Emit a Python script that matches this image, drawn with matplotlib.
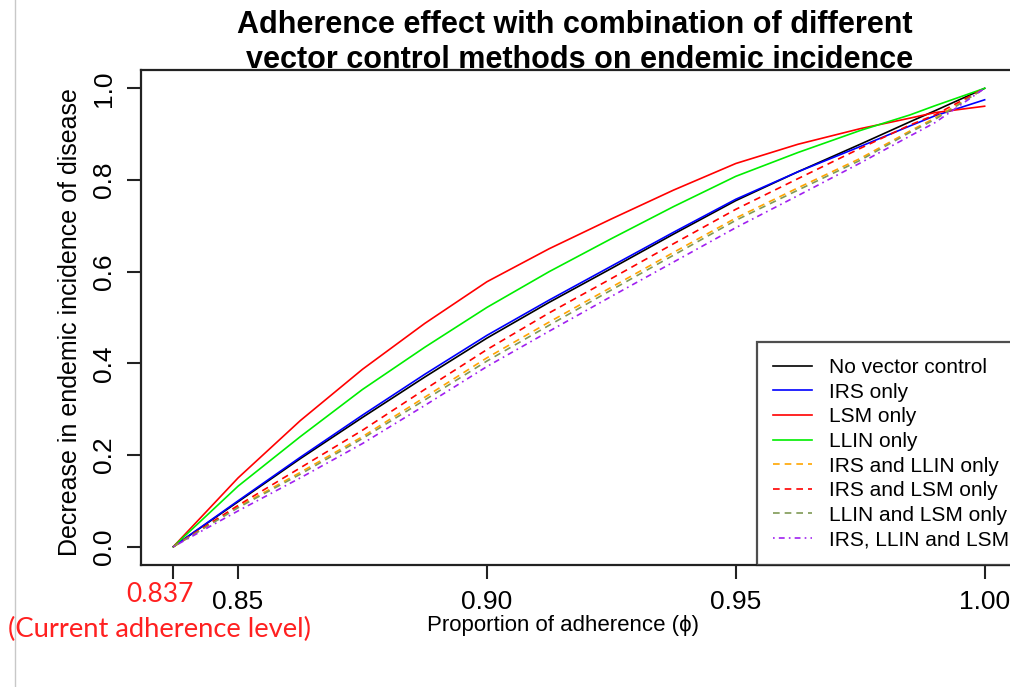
import matplotlib
matplotlib.use("Agg")
import matplotlib.pyplot as plt
from matplotlib.lines import Line2D

plt.rcParams['font.family'] = ['Liberation Sans', 'DejaVu Sans']

# proportion of adherence (x) and decrease in endemic incidence per scenario
adherence = [0.837, 0.85, 0.8625, 0.875, 0.8875, 0.90, 0.9125, 0.925,
             0.9375, 0.95, 0.9625, 0.975, 0.985, 0.99, 1.0]
no_vc = [0, 0.098, 0.192, 0.282, 0.370, 0.455, 0.533, 0.607,
         0.682, 0.755, 0.818, 0.878, 0.927, 0.951, 1.0]
irs_only = [0, 0.100, 0.195, 0.287, 0.376, 0.461, 0.538, 0.612,
            0.686, 0.758, 0.818, 0.873, 0.918, 0.940, 0.975]
lsm_only = [0, 0.150, 0.275, 0.387, 0.487, 0.578, 0.650, 0.715,
            0.778, 0.836, 0.878, 0.912, 0.935, 0.947, 0.961]
llin_only = [0, 0.132, 0.240, 0.343, 0.435, 0.522, 0.600, 0.672,
             0.742, 0.808, 0.860, 0.908, 0.942, 0.962, 1.0]
irs_llin = [0, 0.087, 0.162, 0.240, 0.326, 0.412, 0.490, 0.566,
            0.642, 0.717, 0.783, 0.847, 0.907, 0.935, 1.0]
irs_lsm = [0, 0.090, 0.172, 0.254, 0.343, 0.430, 0.510, 0.585,
           0.661, 0.736, 0.803, 0.869, 0.920, 0.942, 1.0]
llin_lsm = [0, 0.085, 0.158, 0.236, 0.320, 0.405, 0.483, 0.560,
            0.636, 0.712, 0.778, 0.843, 0.904, 0.932, 1.0]
irs_llin_lsm = [0, 0.078, 0.150, 0.225, 0.308, 0.393, 0.470, 0.546,
                0.621, 0.696, 0.766, 0.837, 0.896, 0.925, 1.0]

labels = ["No vector control", "IRS only", "LSM only", "LLIN only",
          "IRS and LLIN only", "IRS and LSM only", "LLIN and LSM only",
          "IRS, LLIN and LSM"]
xticks = [0.837, 0.85, 0.90, 0.95, 1.00]
xtick_labels = ["", "0.85", "0.90", "0.95", "1.00"]
current_level = "0.837"
current_note = "(Current adherence level)"
yticks = [0.0, 0.2, 0.4, 0.6, 0.8, 1.0]
ytick_labels = ["0.0", "0.2", "0.4", "0.6", "0.8", "1.0"]

series = [no_vc, irs_only, lsm_only, llin_only, irs_llin, irs_lsm, llin_lsm, irs_llin_lsm]
colors = ['black', '#0000ff', '#ff0000', '#00ee00', '#ffa500', '#ff0000', '#7f9a55', '#a020f0']
dash = [None, None, None, None, (4, 3), (4, 3), (4, 3), (1, 2.5, 3.5, 2.5)]

fig = plt.figure(figsize=(10.10, 6.87), dpi=100)
ax = fig.add_axes([141/1010, 1 - 565/687, 876/1010, 495/687])

handles = []
for ys, c, d, lab in zip(series, colors, dash, labels):
    ln, = ax.plot(adherence, ys, color=c, lw=1.2, label=lab)
    if d is not None:
        ln.set_dashes(d)
    handles.append(ln)

ax.set_xlim(0.8305, 1.0065)
ax.set_ylim(-0.04, 1.04)
ax.set_xticks(xticks)
ax.set_xticklabels(xtick_labels, fontsize=19)
ax.set_yticks(yticks)
ax.set_yticklabels(ytick_labels, fontsize=19, rotation=90, va='center')
ax.tick_params(length=10, width=1.5, pad=8, color='#222222')
for s in ax.spines.values():
    s.set_linewidth(1.6)
    s.set_color('#222222')

ax.set_xlabel("Proportion of adherence (\u03d5)", fontsize=16)
ax.xaxis.set_label_coords((563 - 141) / 876, -0.1)
ax.set_ylabel("Decrease in endemic incidence of disease", fontsize=18)
ax.yaxis.set_label_coords((82 - 141) / 876, 0.49)

fig.text(575/1010, 1 - 33/687, "Adherence effect with combination of different",
         ha='center', va='baseline', fontsize=22, fontweight='bold')
fig.text(580/1010, 1 - 68/687, "vector control methods on endemic incidence",
         ha='center', va='baseline', fontsize=22, fontweight='bold')

# the current adherence level is highlighted in red under its tick
fig.text(160/1010, 1 - 602/687, current_level, ha='center', va='baseline',
         fontsize=19, color='#ff2020', family='Lato')
fig.text(160/1010, 1 - 637/687, current_note, ha='center', va='baseline',
         fontsize=19.7, color='#ff2020', family='Lato')

leg = ax.legend(handles=handles, loc='lower left',
                bbox_to_anchor=(757/1010, 1 - 565/687), bbox_transform=fig.transFigure,
                fontsize=15, frameon=True, fancybox=False, handlelength=1.9,
                handletextpad=0.8, labelspacing=0.27, borderpad=0.75, borderaxespad=0)
leg.get_frame().set_edgecolor('#222222')
leg.get_frame().set_linewidth(1.6)

# thin gray border line at the left edge of the screenshot
fig.add_artist(Line2D([15/1010, 15/1010], [0, 1], transform=fig.transFigure,
                      color='#c8c8c8', lw=1))

fig.savefig("out.png", dpi=100)
